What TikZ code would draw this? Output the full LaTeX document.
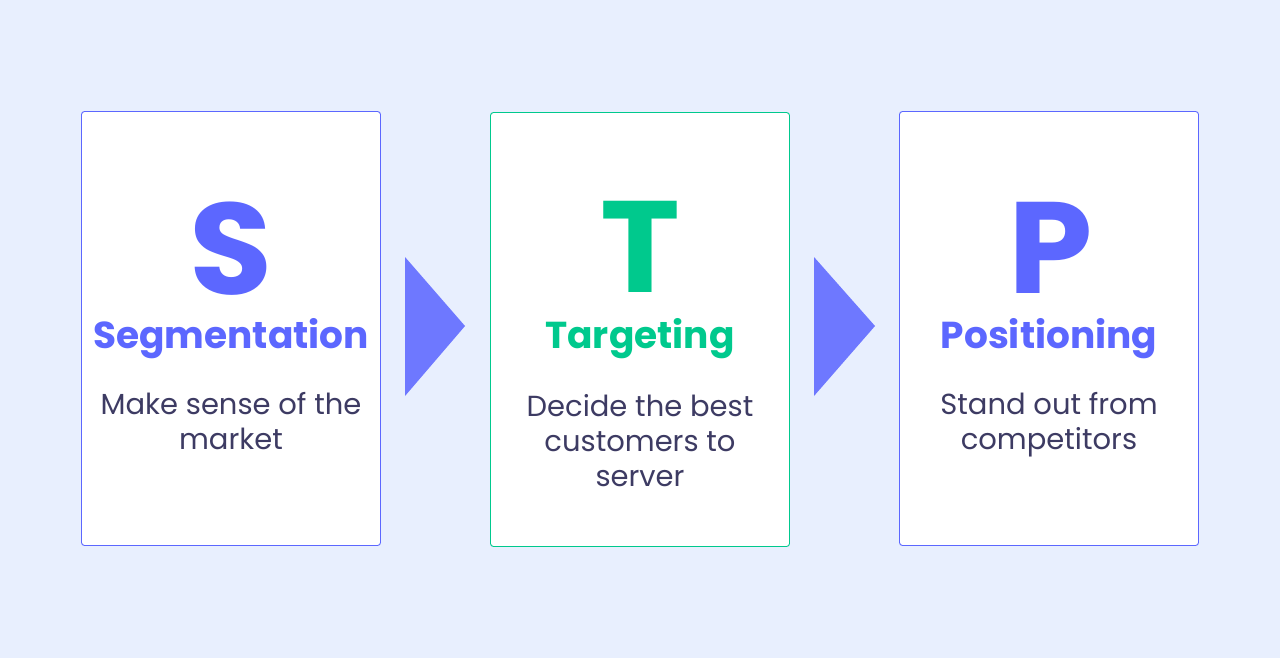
\documentclass[tikz,border=0pt]{standalone}
\usepackage{fontspec}
\setmainfont{Poppins}
\newfontfamily\headfont{Poppins}[UprightFont=* Bold]
\definecolor{bg}{HTML}{E8EFFE}
\definecolor{sblue}{HTML}{5C67FF}
\definecolor{ablue}{HTML}{6E78FF}
\definecolor{tgreen}{HTML}{00C98D}
\definecolor{body}{HTML}{3D3B63}
\begin{document}
\begin{tikzpicture}[x=1pt,y=-1pt,
  card/.style={draw=#1, fill=white, line width=0.9pt, rounded corners=3pt},
  bigletter/.style={anchor=base, text=#1, font=\headfont\fontsize{130}{130}\selectfont, inner sep=0pt, xscale=1.04, text depth=0pt, text height=94pt},
  heading/.style={anchor=base, text=#1, font=\headfont\fontsize{37.5}{38}\selectfont, inner sep=0pt, text height=27pt},
  bodytext/.style={anchor=base, text=body, font=\fontsize{29}{35}\selectfont, align=center, inner sep=0pt},
  arrowtri/.style={fill=ablue, draw=none}]
\useasboundingbox (0,0) rectangle (1280,658);
\fill[bg] (0,0) rectangle (1280,658);
% cards
\draw[card=sblue] (81.5,111.5) rectangle (380.5,545.5);
\draw[card=tgreen] (490.5,112.5) rectangle (789.5,546.5);
\draw[card=sblue] (899.5,111.5) rectangle (1198.5,545.5);
% arrows
\fill[arrowtri] (405,257) -- (465,326) -- (405,396) -- cycle;
\fill[arrowtri] (814,257) -- (875,326) -- (814,396) -- cycle;
% letters
\node[bigletter=sblue] (s) at (231,294) {S};
\node[bigletter=tgreen] (t) at (640,292) {T};
\node[bigletter=sblue] (p) at (1051,293) {P};
% headings
\node[heading=sblue] (sh) at (231,348) {Segmentation};
\node[heading=tgreen] (th) at (640,348) {Targeting};
\node[heading=sblue] (ph) at (1049,348) {Positioning};
% body
\node[bodytext] (sb) at (231,449) {Make sense of the\\market};
\node[bodytext] (tb) at (640,486) {Decide the best\\customers to\\server};
\node[bodytext] (pb) at (1049,449) {Stand out from\\competitors};
\end{tikzpicture}
\end{document}
